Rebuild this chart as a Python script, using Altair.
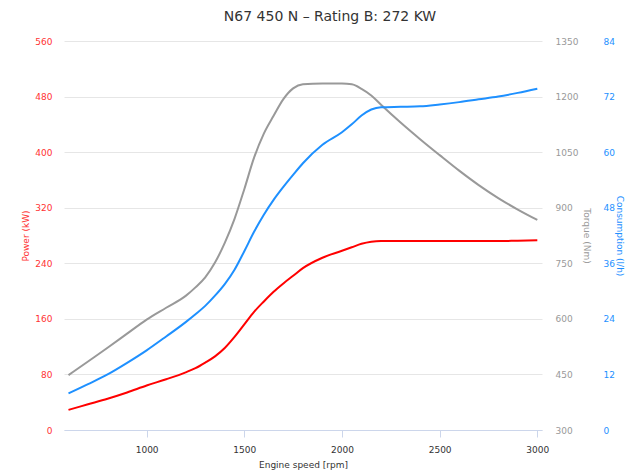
import altair as alt
import pandas as pd

rpm = [600, 700, 800, 900, 1000, 1100, 1200, 1250, 1300, 1350, 1400, 1450, 1500, 1550,
       1600, 1650, 1700, 1750, 1800, 1900, 2000, 2050, 2100, 2150, 2200, 2300, 2400,
       2500, 2600, 2700, 2800, 2900, 3000]
power = [29, 37, 45, 54, 64, 73, 83, 89, 97, 106, 118, 134, 152, 170,
         185, 199, 211, 222, 233, 248, 258, 263, 268, 271, 272, 272, 272,
         272, 272, 272, 272, 272.5, 273]
torque = [448, 485, 522, 560, 598, 630, 662, 685, 712, 752, 805, 870, 950, 1035,
          1100, 1148, 1193, 1222, 1233, 1235, 1235, 1233, 1221, 1203, 1178, 1130, 1085,
          1042, 1000, 961, 926, 895, 867]
consumption = [7.9, 9.9, 12.0, 14.5, 17.2, 20.2, 23.3, 25.0, 26.8, 29.0, 31.5, 34.6, 38.6, 42.8,
               46.5, 49.7, 52.5, 55.1, 57.6, 61.6, 64.3, 66.0, 67.9, 69.2, 69.7, 69.8, 69.9,
               70.3, 70.8, 71.4, 72.0, 72.8, 73.7]

power_ticks = [0, 80, 160, 240, 320, 400, 480, 560]
torque_ticks = [300, 450, 600, 750, 900, 1050, 1200, 1350]
cons_ticks = [0, 12, 24, 36, 48, 60, 72, 84]
x_ticks = [1000, 1500, 2000, 2500, 3000]

df = pd.DataFrame({"rpm": rpm, "power": power, "torque": torque, "consumption": consumption})

FONT = "DejaVu Sans"

x_enc = alt.X(
    "rpm:Q",
    scale=alt.Scale(domain=[577, 3024], nice=False, zero=False),
    axis=alt.Axis(
        values=x_ticks, format="d", grid=False, domainColor="#ccd6eb", tickColor="#ccd6eb",
        tickSize=7, labelColor="#333333", labelFontSize=9, labelFont=FONT,
        labelPadding=8, title="Engine speed [rpm]", titleFont=FONT, titleFontSize=9,
        titleFontWeight="normal", titleColor="#333333", titlePadding=6,
    ),
)

base = alt.Chart(df)

p_layer = base.mark_line(color="#ff0000", strokeWidth=2, interpolate="monotone").encode(
    x=x_enc,
    y=alt.Y(
        "power:Q",
        scale=alt.Scale(domain=[0, 560], nice=False),
        axis=alt.Axis(
            orient="left", values=power_ticks, format="d", grid=True, gridColor="#e6e6e6",
            domain=False, ticks=False, tickSize=0, labelColor="#ff3333", labelFontSize=9,
            labelFont=FONT, labelPadding=12, title="Power (kW)", titleFont=FONT,
            titleFontSize=9, titleFontWeight="normal", titleColor="#ff3333", titlePadding=4,
        ),
    ),
)

t_layer = base.mark_line(color="#999999", strokeWidth=2, interpolate="monotone").encode(
    x=x_enc,
    y=alt.Y(
        "torque:Q",
        scale=alt.Scale(domain=[300, 1350], nice=False, zero=False),
        axis=alt.Axis(
            orient="right", values=torque_ticks, format="d", grid=False, domain=False,
            ticks=False, tickSize=0, labelColor="#999999", labelFontSize=9, labelFont=FONT,
            labelPadding=13, title="Torque (Nm)", titleFont=FONT, titleFontSize=9,
            titleFontWeight="normal", titleColor="#999999", titlePadding=4,
        ),
    ),
)

c_layer = base.mark_line(color="#1e90ff", strokeWidth=2, interpolate="monotone").encode(
    x=x_enc,
    y=alt.Y(
        "consumption:Q",
        scale=alt.Scale(domain=[0, 84], nice=False),
        axis=alt.Axis(
            orient="right", offset=48, values=cons_ticks, format="d", grid=False,
            domain=False, ticks=False, tickSize=0, labelColor="#1e90ff", labelFontSize=9,
            labelFont=FONT, labelPadding=13, title="Consumption (l/h)", titleFont=FONT,
            titleFontSize=9, titleFontWeight="normal", titleColor="#1e90ff", titlePadding=0,
        ),
    ),
)

chart = (
    alt.layer(p_layer, t_layer, c_layer)
    .resolve_scale(y="independent")
    .properties(
        width=478,
        height=389,
        autosize=alt.AutoSizeParams(type="none"),
        padding={"left": 56, "top": 33, "right": 86, "bottom": 42},
        title=alt.TitleParams(
            text="N67 450 N – Rating B: 272 KW", font=FONT, fontSize=14,
            fontWeight="normal", color="#333333", anchor="middle", dx=27, offset=13,
        ),
    )
    .configure_view(stroke=None)
)

chart.save("out.html", embed_options={"renderer": "svg", "actions": False})
